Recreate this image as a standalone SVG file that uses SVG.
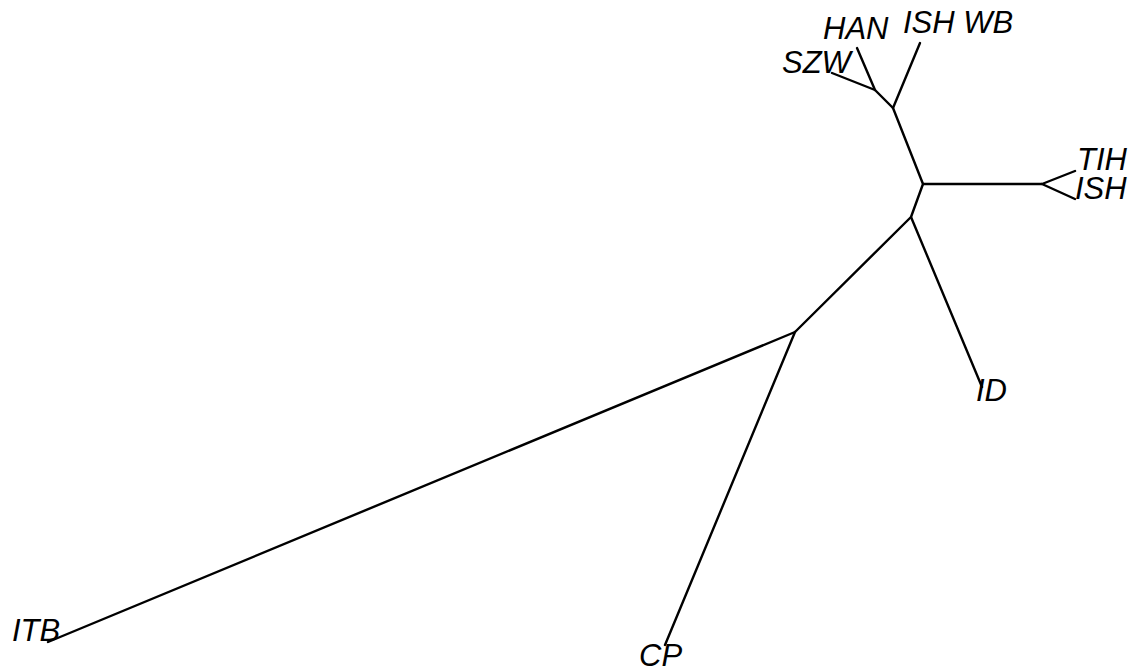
<svg xmlns="http://www.w3.org/2000/svg" width="1139" height="669" viewBox="0 0 1139 669">
<style>
.e{stroke:#000;stroke-width:2.4;fill:none;stroke-linecap:round;stroke-linejoin:round}
.l{font-family:"Liberation Sans",Arial,sans-serif;font-style:italic;font-size:31px;fill:#000}
</style>
<rect width="1139" height="669" fill="#fff"/>
<g id="connectors">
<path class="e" d="M48,642 L795,332 L911,217 L923,184 L893,108 L875,90 L832,73"/>
<path class="e" d="M875,90 L857,48"/>
<path class="e" d="M893,108 L920,43"/>
<path class="e" d="M923,184 L1042,184 L1075,171"/>
<path class="e" d="M1042,184 L1075,199"/>
<path class="e" d="M911,217 L982,387"/>
<path class="e" d="M795,332 L665,645"/>
</g>
<g id="SZW"><text class="l" x="782" y="73">SZW</text></g>
<g id="HAN"><text class="l" x="823" y="39">HAN</text></g>
<g id="ISH_WB"><text class="l" x="903" y="33">ISH WB</text></g>
<g id="TIH"><text class="l" x="1077" y="170">TIH</text></g>
<g id="ISH"><text class="l" x="1075" y="199">ISH</text></g>
<g id="ID"><text class="l" x="976" y="401">ID</text></g>
<g id="ITB"><text class="l" x="12" y="641">ITB</text></g>
<g id="CP"><text class="l" x="639" y="666">CP</text></g>
</svg>
